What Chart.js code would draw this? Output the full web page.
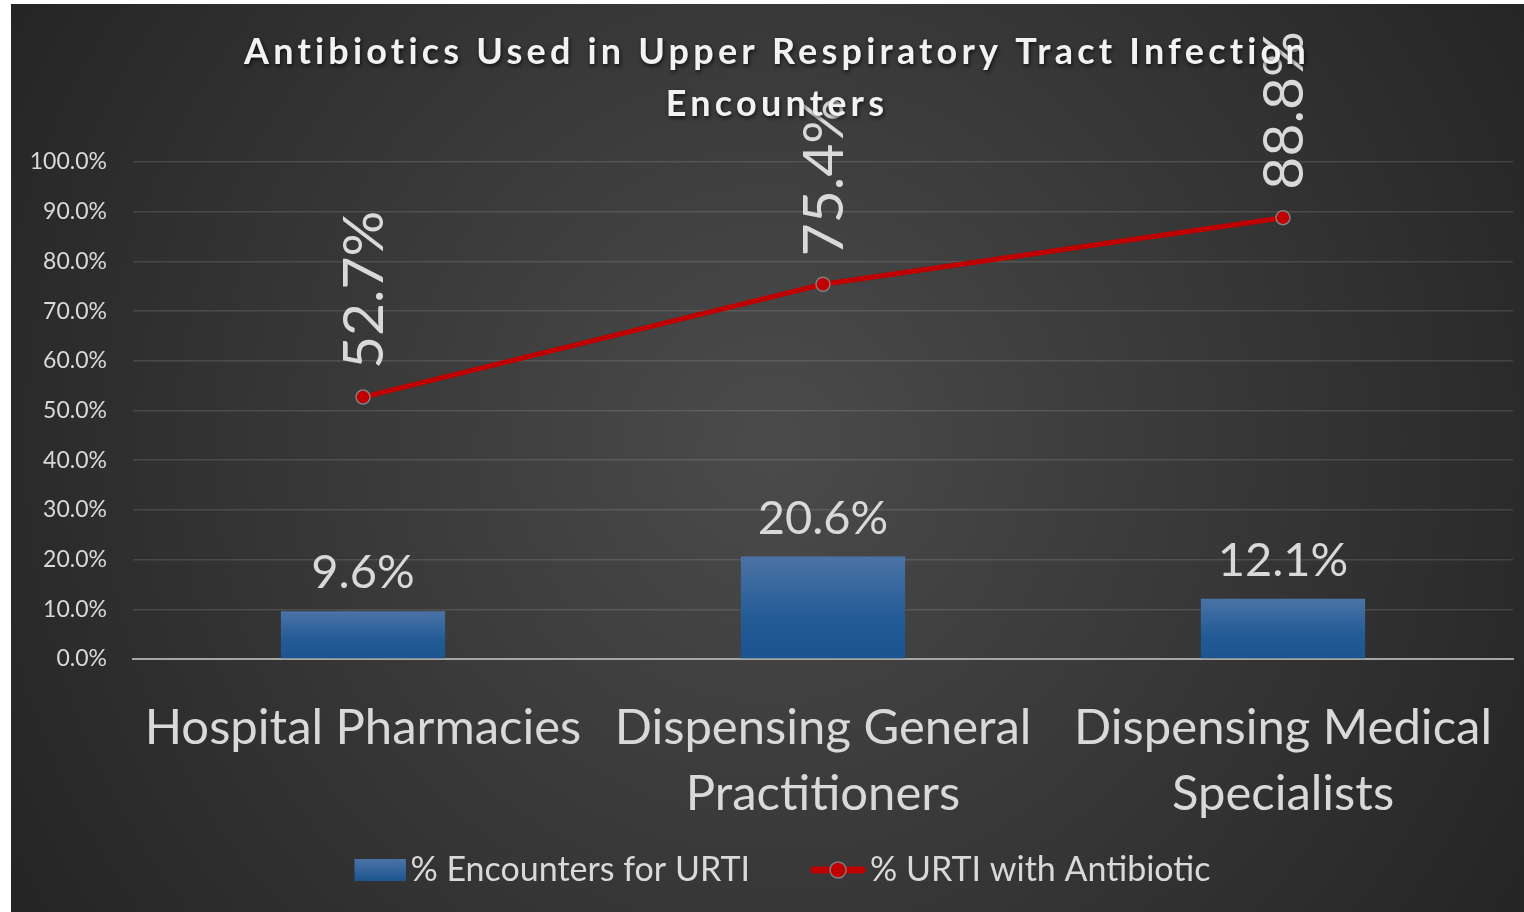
<!DOCTYPE html>
<html>
<head>
<meta charset="utf-8">
<script src="https://cdn.jsdelivr.net/npm/chart.js@4"></script>
<style>
  html, body { margin: 0; padding: 0; background: #fff; }
  #wrap { position: absolute; left: 11px; top: 4px; width: 1513px; height: 908px; }
</style>
</head>
<body>
<div id="wrap"><canvas id="chart"></canvas></div>
<script>
const categories = [
    ["Hospital Pharmacies"],
    ["Dispensing General", "Practitioners"],
    ["Dispensing Medical", "Specialists"]
];
const encountersURTI = [9.6, 20.6, 12.1];
const urtiWithAntibiotic = [52.7, 75.4, 88.8];
const titleLines = ["Antibiotics Used in Upper Respiratory Tract Infection", "Encounters"];
const seriesNames = ["% Encounters for URTI", "% URTI with Antibiotic"];

const textColor = "#d9d9d9";
const fontFamily = "Lato, 'Open Sans', sans-serif";

// legend icons: drawn right-aligned in a wider transparent canvas so the gaps match
const ICON_W = 106, ICON_H = 24;
function barIcon() {
    const c = document.createElement("canvas");
    c.width = ICON_W; c.height = ICON_H;
    const g = c.getContext("2d");
    const gr = g.createLinearGradient(0, 1, 0, 23);
    gr.addColorStop(0, "#4b73a6");
    gr.addColorStop(1, "#1d558f");
    g.fillStyle = gr;
    g.fillRect(ICON_W - 52, 1, 52, 22);
    return c;
}
function lineIcon() {
    const c = document.createElement("canvas");
    c.width = ICON_W; c.height = ICON_H;
    const g = c.getContext("2d");
    const x0 = ICON_W - 56;
    g.strokeStyle = "#c00000";
    g.lineWidth = 7;
    g.lineCap = "round";
    g.beginPath(); g.moveTo(x0 + 4, 12); g.lineTo(ICON_W - 4, 12); g.stroke();
    g.beginPath(); g.arc(x0 + 28, 12, 8, 0, Math.PI * 2);
    g.fillStyle = "#c00000"; g.fill();
    g.lineWidth = 1.5; g.strokeStyle = "#808080"; g.stroke();
    return c;
}
const icons = [barIcon(), lineIcon()];

const background = {
    id: "background",
    beforeDraw(chart) {
        const {ctx, width, height} = chart;
        const gr = ctx.createRadialGradient(760, 440, 0, 760, 440, 900);
        gr.addColorStop(0, "#4b4b4b");
        gr.addColorStop(1, "#242424");
        ctx.save();
        ctx.fillStyle = gr;
        ctx.fillRect(0, 0, width, height);
        ctx.restore();
    }
};

const titlePlugin = {
    id: "spacedTitle",
    afterDraw(chart) {
        const ctx = chart.ctx;
        ctx.save();
        ctx.font = "bold 36px " + fontFamily;
        ctx.letterSpacing = "4.2px";
        ctx.fillStyle = "#f2f2f2";
        ctx.textAlign = "center";
        ctx.textBaseline = "middle";
        ctx.shadowColor = "rgba(0,0,0,0.7)";
        ctx.shadowBlur = 4;
        ctx.shadowOffsetX = 1;
        ctx.shadowOffsetY = 2;
        titleLines.forEach((t, i) => ctx.fillText(t, 766, 48 + i * 52));
        ctx.restore();
    }
};

const valueLabels = {
    id: "valueLabels",
    afterDatasetsDraw(chart) {
        const ctx = chart.ctx;
        ctx.save();
        ctx.fillStyle = textColor;
        chart.data.datasets.forEach((ds, di) => {
            const meta = chart.getDatasetMeta(di);
            meta.data.forEach((el, i) => {
                const txt = ds.data[i].toFixed(1) + "%";
                if (ds.type === "line") {
                    ctx.font = "57px " + fontFamily;
                    ctx.save();
                    ctx.translate(el.x + 2, el.y - 28);
                    ctx.rotate(-Math.PI / 2);
                    ctx.textAlign = "left";
                    ctx.textBaseline = "middle";
                    ctx.fillText(txt, 0, 0);
                    ctx.restore();
                } else {
                    ctx.font = "47px " + fontFamily;
                    ctx.textAlign = "center";
                    ctx.textBaseline = "alphabetic";
                    ctx.fillText(txt, el.x, el.y - 23);
                }
            });
        });
        ctx.restore();
    }
};

function barGradient(context) {
    const chart = context.chart;
    if (!chart.chartArea || context.type !== "data") return "#2a5c96";
    const y = chart.scales.y;
    const top = y.getPixelForValue(context.raw);
    const base = y.getPixelForValue(0);
    const gr = chart.ctx.createLinearGradient(0, top, 0, base);
    gr.addColorStop(0, "#4b73a6");
    gr.addColorStop(0.6, "#235b96");
    gr.addColorStop(1, "#1b548f");
    return gr;
}

new Chart(document.getElementById("chart"), {
    type: "bar",
    data: {
        labels: categories,
        datasets: [
            {
                type: "bar",
                label: seriesNames[0],
                data: encountersURTI,
                backgroundColor: barGradient,
                barPercentage: 0.357,
                categoryPercentage: 1
            },
            {
                type: "line",
                label: seriesNames[1],
                data: urtiWithAntibiotic,
                borderColor: "#c00000",
                borderWidth: 5,
                backgroundColor: "#c00000",
                pointRadius: 7,
                pointBorderColor: "#7f7f7f",
                pointBorderWidth: 1.5,
                pointBackgroundColor: "#c00000",
                tension: 0
            }
        ]
    },
    options: {
        responsive: true,
        maintainAspectRatio: false,
        animation: false,
        layout: { padding: { top: 158, right: 11, bottom: 15, left: 0 } },
        plugins: {
            title: { display: false },
            tooltip: { enabled: false },
            legend: {
                position: "bottom",
                labels: {
                    color: textColor,
                    font: { size: 34, family: fontFamily },
                    usePointStyle: true,
                    pointStyleWidth: 80,
                    padding: 23,
                    generateLabels(chart) {
                        const items = Chart.defaults.plugins.legend.labels.generateLabels(chart);
                        items.forEach((it, i) => { it.pointStyle = icons[i]; });
                        return items;
                    }
                }
            }
        },
        scales: {
            x: {
                grid: { display: false, drawTicks: false },
                border: { display: true, color: "#a6a6a6", width: 2 },
                ticks: {
                    color: textColor,
                    font: { size: 49, family: fontFamily, lineHeight: 1.345 },
                    padding: 36,
                    maxRotation: 0,
                    autoSkip: false
                },
                afterFit(scale) {
                    scale.height = 171;
                    scale.paddingLeft = 0;
                    scale.paddingRight = 0;
                }
            },
            y: {
                min: 0,
                max: 100,
                grid: { color: "rgba(255,255,255,0.12)", lineWidth: 1.5, drawTicks: false },
                border: { display: false },
                ticks: {
                    stepSize: 10,
                    color: textColor,
                    font: { size: 23, family: fontFamily },
                    padding: 26,
                    callback: v => v.toFixed(1) + "%"
                },
                afterFit(scale) { scale.width = 122; }
            }
        }
    },
    plugins: [background, valueLabels, titlePlugin]
});
</script>
</body>
</html>
